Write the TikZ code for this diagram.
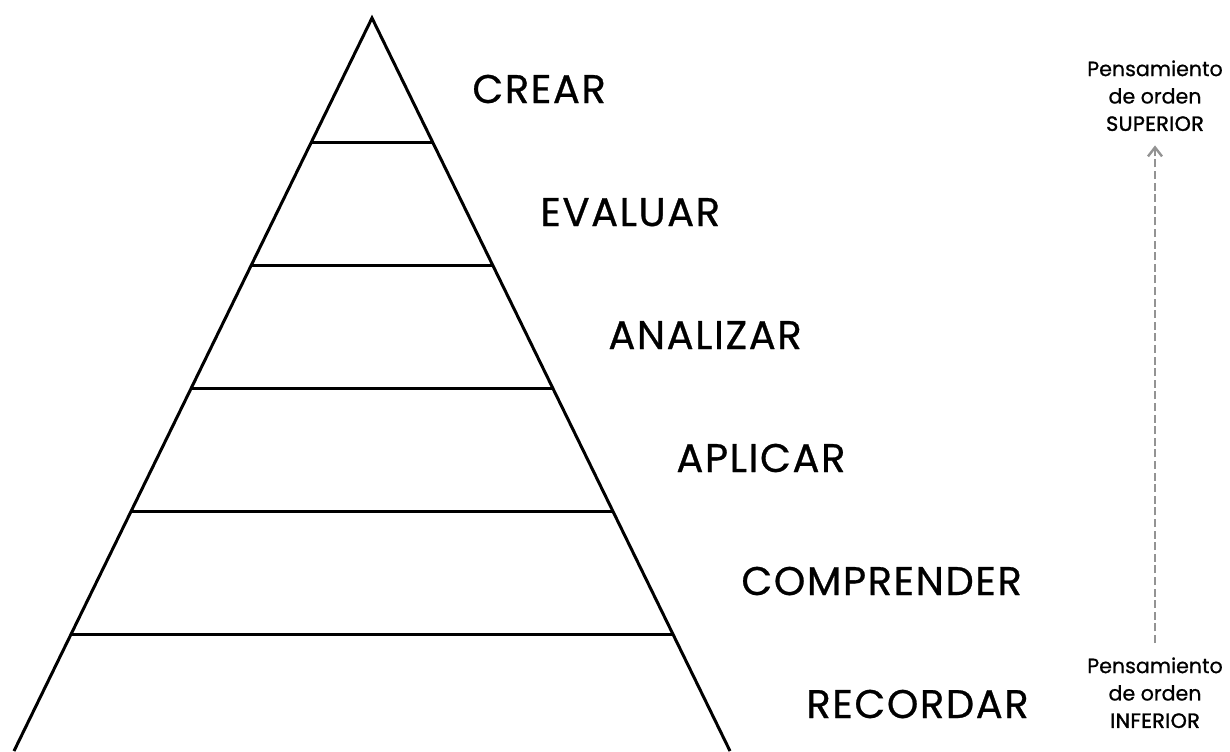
\documentclass[tikz,border=0pt]{standalone}
\usepackage{fontspec}
\setmainfont{Poppins}[FakeBold=0.7]
\newfontfamily\medfont{Poppins}[FakeBold=1.6, LetterSpace=2]
\usetikzlibrary{positioning, calc, arrows.meta}

\tikzset{
  level/.style={anchor=base west, inner sep=0pt, font=\addfontfeatures{LetterSpace=4}\fontsize{20}{22}\selectfont},
  side/.style={align=center, inner sep=0pt, font=\fontsize{10.3}{13.7}\selectfont},
}

\begin{document}
\begin{tikzpicture}[x=0.5pt, y=-0.5pt]

\useasboundingbox (0,0) rectangle (1230,751);

\coordinate (apex) at (372,18);
\coordinate (bl) at (14,751);
\coordinate (br) at (730,751);
%
\draw[line width=1.5pt, line join=miter] (bl) -- (apex) -- (br);
\foreach \k in {0,...,4} {
  \pgfmathsetmacro{\t}{(124+123*\k)/733}
  \draw[line width=1.5pt] ($(apex)!\t!(bl)$) -- ($(apex)!\t!(br)$);
}

\node[level] (crear) at (472,103) {CREAR};
\node[level] (evaluar) at (540,226) {EVALUAR};
\node[level] (analizar) at (608,349) {ANALIZAR};
\node[level] (aplicar) at (676,472) {APLICAR};
\node[level] (comprender) at (741,595) {COMPRENDER};
\node[level] (recordar) at (806,718) {RECORDAR};

\node[side, anchor=north] (sup) at (1155,60) {Pensamiento\\de orden\\{\medfont SUPERIOR}};
\node[side, anchor=north] (inf) at (1155,657) {Pensamiento\\de orden\\{\medfont INFERIOR}};

\begin{scope}[>={Straight Barb[length=4.5pt, width=7pt, line width=1.2pt]}]
\draw[->, gray!85, line width=1pt, dash pattern=on 4pt off 1.8pt] (inf.north) ++(0,-14) coordinate (lo) (lo) -- ($(sup.south)+(0,14)$);
\end{scope}

\end{tikzpicture}
\end{document}
